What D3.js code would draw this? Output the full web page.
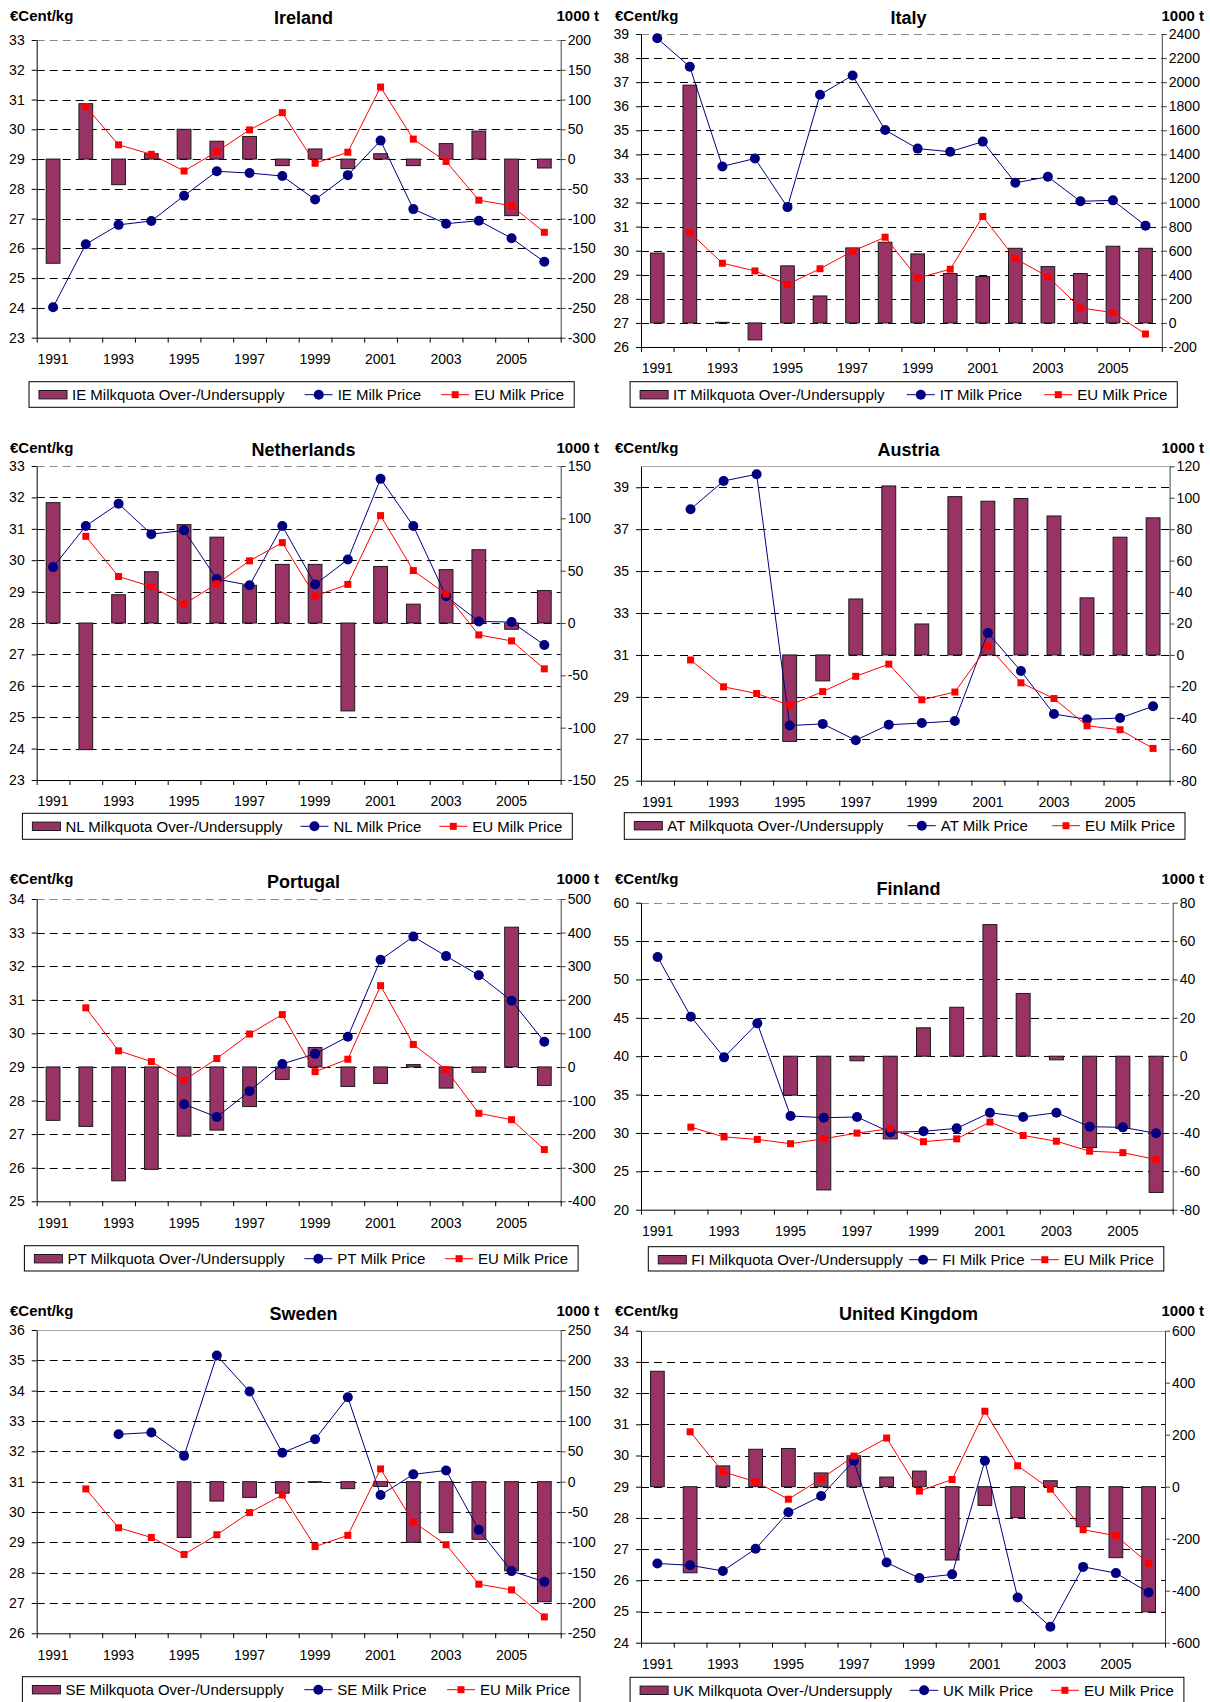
<!DOCTYPE html>
<html>
<head>
<meta charset="utf-8">
<script src="https://cdnjs.cloudflare.com/ajax/libs/d3/7.8.5/d3.min.js"></script>
<style>
  body { margin: 0; background: #fff; }
  svg text { font-family: "Liberation Sans", Arial, sans-serif; fill: #000; }
</style>
</head>
<body>
<svg id="chart" width="1210" height="1702"></svg>
<script>
// years on the category axis, labels on every other one
var years = [1991, 1992, 1993, 1994, 1995, 1996, 1997, 1998, 1999, 2000, 2001, 2002, 2003, 2004, 2005, 2006];

// EU milk price, same in every panel (€Cent/kg)
var euPrice = [null, 30.76, 29.48, 29.16, 28.60, 29.25, 29.98, 30.56, 28.86, 29.23, 31.42, 29.67, 28.92, 27.62, 27.43, 26.54];

// national milk prices (€Cent/kg) and quota over-/undersupply (1000 t)
var iePrice = [24.02, 26.14, 26.79, 26.92, 27.77, 28.59, 28.53, 28.43, 27.64, 28.46, 29.62, 27.32, 26.83, 26.93, 26.34, 25.55];
var ieQuota = [-175, 93, -43, 9, 50, 30, 38, -11, 17, -16, 9, -11, 26, 47, -95, -15];

var itPrice = [38.82, 37.64, 33.50, 33.83, 31.81, 36.48, 37.28, 35.01, 34.24, 34.11, 34.53, 32.82, 33.07, 32.05, 32.09, 31.04];
var itQuota = [580, 1975, 5, -141, 474, 224, 623, 670, 573, 410, 385, 620, 468, 410, 637, 620];

var nlPrice = [29.78, 31.09, 31.80, 30.83, 30.95, 29.40, 29.20, 31.09, 29.23, 30.02, 32.59, 31.09, 28.85, 28.05, 28.03, 27.30];
var nlQuota = [115, -121, 27, 49, 94, 82, 36, 56, 56, -84, 54, 18, 51, 70, -6, 31];

var atPrice = [null, 37.95, 39.30, 39.62, 27.63, 27.71, 26.93, 27.67, 27.75, 27.85, 32.05, 30.23, 28.18, 27.93, 27.99, 28.55];
var atQuota = [null, null, null, null, -55, -16.5, 35.6, 107.5, 19.7, 100.7, 97.8, 99.5, 88.4, 36.3, 74.9, 87.2];

var ptPrice = [null, null, null, null, 27.89, 27.51, 28.28, 29.09, 29.39, 29.90, 32.19, 32.88, 32.30, 31.73, 30.97, 29.75];
var ptQuota = [-159, -177, -339, -305, -206, -188, -118, -37, 58, -58, -49, 7, -63, -16, 416, -55];

var fiPrice = [52.92, 45.15, 39.85, 44.28, 32.21, 31.99, 32.08, 30.08, 30.21, 30.60, 32.64, 32.08, 32.64, 30.82, 30.73, 29.95];
var fiQuota = [null, null, null, null, -20.3, -69.7, -2.4, -43.1, 14.8, 25.5, 68.6, 32.7, -1.9, -47.6, -37.7, -71];

var sePrice = [null, null, 32.56, 32.62, 31.85, 35.16, 33.97, 31.95, 32.40, 33.78, 30.56, 31.24, 31.37, 29.41, 28.05, 27.70];
var seQuota = [null, null, null, null, -92, -32, -26, -19, -1, -11.5, -8, -100, -84, -95, -147, -198];

var ukPrice = [26.54, 26.48, 26.30, 27.01, 28.18, 28.70, 29.83, 26.57, 26.07, 26.19, 29.83, 25.45, 24.51, 26.43, 26.23, 25.61];
var ukQuota = [444, -331, 80, 144, 147, 53, 119, 37, 60, -282, -72, -119, 23, -154, -273, -481];

// axis ranges per country: [min, max, step]
var ieLeft = [23, 33, 1], ieRight = [-300, 200, 50];
var itLeft = [26, 39, 1], itRight = [-200, 2400, 200];
var nlLeft = [23, 33, 1], nlRight = [-150, 150, 50];
var atLeft = [25, 40, 2], atRight = [-80, 120, 20];
var ptLeft = [25, 34, 1], ptRight = [-400, 500, 100];
var fiLeft = [20, 60, 5], fiRight = [-80, 80, 20];
var seLeft = [26, 36, 1], seRight = [-250, 250, 50];
var ukLeft = [24, 34, 1], ukRight = [-600, 600, 200];

var BAR = '#993366', BLUE = '#000080', RED = '#ff0000';
var FONT = '"Liberation Sans", Arial, sans-serif';

// layout of the eight panels (plot box, legend box, text baselines)
var panels = [
    {code: 'IE', name: 'Ireland', price: iePrice, quota: ieQuota, left: ieLeft, right: ieRight,
     px: 0, box: [36.7, 40, 560.7, 337.7], legend: [29, 381.7, 574.2, 407.3], titleY: 24, unitY: 20.7, topDash: true},
    {code: 'IT', name: 'Italy', price: itPrice, quota: itQuota, left: itLeft, right: itRight,
     px: 605, box: [641, 34, 1161.8, 347], legend: [630.1, 381.7, 1177.3, 407.3], titleY: 24, unitY: 20.7, topDash: true},
    {code: 'NL', name: 'Netherlands', price: nlPrice, quota: nlQuota, left: nlLeft, right: nlRight,
     px: 0, box: [36.7, 466, 560.7, 780], legend: [22.4, 813.3, 572.3, 839.3], titleY: 456, unitY: 452.7, topDash: true},
    {code: 'AT', name: 'Austria', price: atPrice, quota: atQuota, left: atLeft, right: atRight,
     px: 605, box: [641, 466.3, 1169.6, 780.7], legend: [624.3, 812.7, 1185, 839.3], titleY: 456, unitY: 452.7, topDash: false},
    {code: 'PT', name: 'Portugal', price: ptPrice, quota: ptQuota, left: ptLeft, right: ptRight,
     px: 0, box: [36.7, 899, 560.7, 1201.3], legend: [24.4, 1245.7, 578.1, 1271], titleY: 888, unitY: 884, topDash: true},
    {code: 'FI', name: 'Finland', price: fiPrice, quota: fiQuota, left: fiLeft, right: fiRight,
     px: 605, box: [641, 902.7, 1172.7, 1209.7], legend: [648.3, 1246.7, 1163.8, 1271], titleY: 895, unitY: 884, topDash: true},
    {code: 'SE', name: 'Sweden', price: sePrice, quota: seQuota, left: seLeft, right: seRight,
     px: 0, box: [36.7, 1330, 560.7, 1633.3], legend: [22.4, 1676.7, 580, 1703], titleY: 1320, unitY: 1316, topDash: false},
    {code: 'UK', name: 'United Kingdom', price: ukPrice, quota: ukQuota, left: ukLeft, right: ukRight,
     px: 605, box: [641, 1330.7, 1165, 1642.7], legend: [630.1, 1677.3, 1183.9, 1703], titleY: 1320, unitY: 1316, topDash: false}
];

// plain numbers with an ascii minus, no thousands separator
var plain = function(d) { return String(d); };

var svg = d3.select('#chart');
svg.append('rect').attr('width', 1210).attr('height', 1702).attr('fill', '#fff');

panels.forEach(drawPanel);


function drawPanel(p) {
    var L = p.box[0], T = p.box[1], R = p.box[2], B = p.box[3];
    var g = svg.append('g').attr('class', 'panel-' + p.code);

    var x = d3.scaleBand().domain(years).range([L, R]);
    var xi = d3.scaleLinear().domain([0, years.length]).range([L, R]);
    var yL = d3.scaleLinear().domain([p.left[0], p.left[1]]).range([B, T]);
    var yR = d3.scaleLinear().domain([p.right[0], p.right[1]]).range([B, T]);

    var leftTicks = d3.range(p.left[0], p.left[1] + 1e-6, p.left[2]);
    var rightTicks = d3.range(p.right[0], p.right[1] + 1e-6, p.right[2]);

    // top edge of plot area
    var ty = Math.round(T) + 0.5;
    g.append('line')
        .attr('x1', L).attr('x2', R).attr('y1', ty).attr('y2', ty)
        .attr('stroke', p.topDash ? '#8a8a8a' : '#a8a8a8')
        .attr('stroke-dasharray', p.topDash ? '8,5' : null);

    // dashed gridlines, snapped to whole pixels
    g.selectAll('.grid')
        .data(leftTicks.filter(function(t) { return t > p.left[0] && t < p.left[1]; }))
      .enter().append('line')
        .attr('x1', L).attr('x2', R)
        .attr('y1', function(d) { return Math.round(yL(d)) + 0.5; })
        .attr('y2', function(d) { return Math.round(yL(d)) + 0.5; })
        .attr('stroke', '#000')
        .attr('stroke-dasharray', '8,5');

    // quota bars on the right axis
    var bw = x.bandwidth() * 0.42;
    var barData = years.map(function(yr, i) { return {yr: yr, v: p.quota[i]}; })
        .filter(function(d) { return d.v != null; });

    g.selectAll('.bar')
        .data(barData)
      .enter().append('rect')
        .attr('x', function(d) { return x(d.yr) + (x.bandwidth() - bw) / 2; })
        .attr('y', function(d) { return yR(Math.max(0, d.v)); })
        .attr('width', bw)
        .attr('height', function(d) { return Math.max(0.5, Math.abs(yR(d.v) - yR(0))); })
        .attr('fill', BAR)
        .attr('stroke', '#1a1a1a')
        .attr('stroke-width', 1);

    // axes
    var axL = g.append('g')
        .attr('transform', 'translate(' + L + ',0)')
        .call(d3.axisLeft(yL).tickValues(leftTicks).tickFormat(plain)
            .tickSize(5).tickSizeOuter(0).tickPadding(7));
    var axR = g.append('g')
        .attr('transform', 'translate(' + R + ',0)')
        .call(d3.axisRight(yR).tickValues(rightTicks).tickFormat(plain)
            .tickSize(5).tickSizeOuter(0).tickPadding(2));
    var axB = g.append('g')
        .attr('transform', 'translate(0,' + B + ')')
        .call(d3.axisBottom(xi).tickValues(d3.range(0, years.length + 1)).tickSize(5).tickSizeOuter(0).tickFormat(''));
    var axY = g.append('g')
        .attr('transform', 'translate(0,' + B + ')')
        .call(d3.axisBottom(x).tickSize(0).tickPadding(16.5)
            .tickFormat(function(d) { return (d - years[0]) % 2 === 0 ? d : ''; }));
    axY.select('.domain').remove();

    [axL, axR, axB, axY].forEach(function(a) {
        a.attr('font-size', 14).attr('font-family', FONT);
        a.selectAll('.tick line').attr('stroke', '#000');
    });
    axL.select('.domain').attr('stroke', '#000');
    axB.select('.domain').attr('stroke', '#000');
    axR.select('.domain').attr('stroke', '#404040');
    axR.selectAll('.tick line').attr('stroke', '#404040');

    // price lines
    var line = d3.line()
        .defined(function(d) { return d.v != null; })
        .x(function(d) { return x(d.yr) + x.bandwidth() / 2; })
        .y(function(d) { return yL(d.v); });

    var own = years.map(function(yr, i) { return {yr: yr, v: p.price[i]}; });
    var eu = years.map(function(yr, i) { return {yr: yr, v: euPrice[i]}; });

    g.append('path').datum(own)
        .attr('d', line).attr('fill', 'none').attr('stroke', BLUE).attr('stroke-width', 1);
    g.append('path').datum(eu)
        .attr('d', line).attr('fill', 'none').attr('stroke', RED).attr('stroke-width', 1);

    g.selectAll('.dot')
        .data(own.filter(function(d) { return d.v != null; }))
      .enter().append('circle')
        .attr('cx', function(d) { return x(d.yr) + x.bandwidth() / 2; })
        .attr('cy', function(d) { return yL(d.v); })
        .attr('r', 5)
        .attr('fill', BLUE);

    g.selectAll('.sq')
        .data(eu.filter(function(d) { return d.v != null; }))
      .enter().append('rect')
        .attr('x', function(d) { return x(d.yr) + x.bandwidth() / 2 - 3.5; })
        .attr('y', function(d) { return yL(d.v) - 3.5; })
        .attr('width', 7).attr('height', 7)
        .attr('fill', RED);

    // titles
    g.append('text')
        .attr('x', p.px + 10).attr('y', p.unitY)
        .attr('font-size', 15).attr('font-weight', 'bold')
        .text('€Cent/kg');
    g.append('text')
        .attr('x', p.px + 599).attr('y', p.unitY)
        .attr('text-anchor', 'end')
        .attr('font-size', 15).attr('font-weight', 'bold')
        .text('1000 t');
    g.append('text')
        .attr('x', p.px + 303.5).attr('y', p.titleY)
        .attr('text-anchor', 'middle')
        .attr('font-size', 18).attr('font-weight', 'bold')
        .text(p.name);

    makeLegend(g, p);
}


function makeLegend(g, p) {
    var lx0 = p.legend[0], ly0 = p.legend[1], lx1 = p.legend[2], ly1 = p.legend[3];
    var cy = ly0 + 13;
    var pad = 10, key = 28, gapText = 5;

    g.append('rect')
        .attr('x', lx0).attr('y', ly0)
        .attr('width', lx1 - lx0).attr('height', ly1 - ly0)
        .attr('fill', '#fff').attr('stroke', '#000').attr('stroke-width', 1);

    var labels = [p.code + ' Milkquota Over-/Undersupply', p.code + ' Milk Price', 'EU Milk Price'];
    var texts = labels.map(function(s) {
        return g.append('text')
            .attr('y', cy + 5.3)
            .attr('font-size', 15)
            .text(s);
    });
    var widths = texts.map(function(t) { return t.node().getComputedTextLength(); });
    var used = 2 * pad + 3 * (key + gapText) + d3.sum(widths);
    var gap = (lx1 - lx0 - used) / 2;

    var cx = lx0 + pad;
    labels.forEach(function(s, i) {
        if (i === 0) {
            g.append('rect')
                .attr('x', cx).attr('y', cy - 4.2)
                .attr('width', key).attr('height', 8.4)
                .attr('fill', BAR).attr('stroke', '#1a1a1a');
        } else {
            var col = i === 1 ? BLUE : RED;
            g.append('line')
                .attr('x1', cx).attr('x2', cx + key)
                .attr('y1', cy).attr('y2', cy)
                .attr('stroke', col);
            if (i === 1) {
                g.append('circle').attr('cx', cx + key / 2).attr('cy', cy).attr('r', 5).attr('fill', col);
            } else {
                g.append('rect').attr('x', cx + key / 2 - 3.5).attr('y', cy - 3.5)
                    .attr('width', 7).attr('height', 7).attr('fill', col);
            }
        }
        texts[i].attr('x', cx + key + gapText);
        cx += key + gapText + widths[i] + gap;
    });
}
</script>
</body>
</html>
